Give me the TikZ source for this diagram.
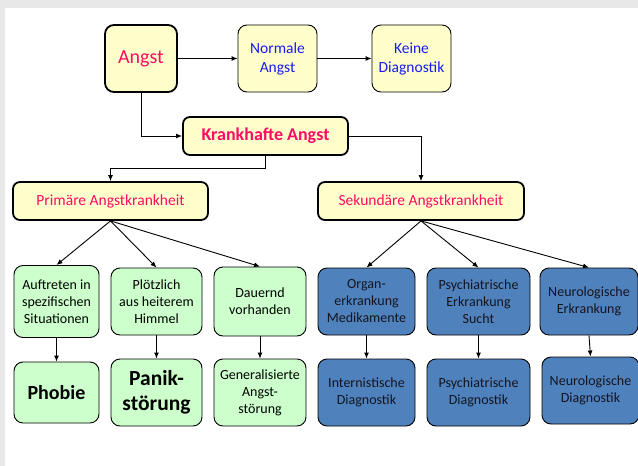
\documentclass[tikz,border=0pt]{standalone}
\usepackage{fontspec}
\setmainfont{Carlito}
\usetikzlibrary{arrows.meta}
\definecolor{pinktxt}{HTML}{FF0A64}
\definecolor{bluetxt}{HTML}{1A1AF0}
\definecolor{yelfill}{HTML}{FFFFCC}
\definecolor{grnfill}{HTML}{CCFFCC}
\definecolor{bluefill}{HTML}{4F81BD}
\definecolor{bggray}{HTML}{E8E8E8}
\definecolor{darktxt}{HTML}{14141E}
\tikzset{
  box/.style={draw=black, rounded corners=9pt, align=center, inner sep=1pt, line width=0.9pt},
  thickbox/.style={box, line width=1.8pt},
  yel/.style={fill=yelfill},
  grn/.style={box, fill=grnfill, font=\fontsize{14}{17}\selectfont},
  blu/.style={box, fill=bluefill, text=darktxt, font=\fontsize{14}{17}\selectfont},
  arr/.style={draw=black, line width=0.9pt, -{Latex[length=6pt,width=5pt]}},
  sz/.style 2 args={minimum width=#1pt, minimum height=#2pt}
}
\begin{document}
\begin{tikzpicture}[x=1pt,y=-1pt]
\fill[bggray] (0,0) rectangle (638,466);
\fill[white] (5,8) rectangle (638,466);
\useasboundingbox (0,0) rectangle (638,466);

\node[thickbox, yel, sz={72}{67}, text=pinktxt, font=\fontsize{20}{24}\selectfont] (angst) at (141,58.5) {Angst};
\node[box, yel, sz={79}{67}, text=bluetxt, font=\fontsize{15.5}{19}\selectfont] (normale) at (277.5,58.5) {Normale\\Angst};
\node[box, yel, sz={79}{67}, text=bluetxt, font=\fontsize{15.5}{19}\selectfont] (keine) at (411.5,58.5) {Keine\\Diagnostik};

\node[thickbox, yel, rounded corners=7pt, sz={165}{38}, text=pinktxt, font=\bfseries\fontsize{18}{22}\selectfont] (krank) at (265.5,136) {Krankhafte Angst};
\node[thickbox, yel, rounded corners=7pt, sz={195}{38}, text=pinktxt, font=\fontsize{15.5}{19}\selectfont] (prim) at (110.5,201) {Primäre Angstkrankheit};
\node[thickbox, yel, rounded corners=7pt, sz={206}{38}, text=pinktxt, font=\fontsize{15.5}{19}\selectfont] (sek) at (421,201) {Sekundäre Angstkrankheit};

\node[grn, sz={85}{72}] (g1) at (56.5,301.5) {Auftreten in\\spezifischen\\Situationen};
\node[grn, sz={91}{67}] (g2) at (156.5,301.5) {Plötzlich\\aus heiterem\\Himmel};
\node[grn, sz={92}{69}] (g3) at (260,301.5) {Dauernd\\vorhanden};

\node[grn, sz={85}{61}, font=\bfseries\fontsize{20}{24}\selectfont] (p1) at (56.5,392.5) {Phobie};
\node[grn, sz={91}{67}, font=\bfseries\fontsize{21.5}{25}\selectfont] (p2) at (156.5,392.5) {Panik-\\störung};
\node[grn, sz={92}{67}] (p3) at (260,392.5) {Generalisierte\\Angst-\\störung};

\node[blu, sz={97}{67}] (b1) at (366.5,301.5) {Organ-\\erkrankung\\Medikamente};
\node[blu, sz={103}{67}] (b2) at (478.5,301.5) {Psychiatrische\\Erkrankung\\Sucht};
\node[blu, sz={98}{67}] (b3) at (589,301.5) {Neurologische\\Erkrankung};

\node[blu, sz={97}{67}] (d1) at (366.5,392.5) {Internistische\\Diagnostik};
\node[blu, sz={103}{67}] (d2) at (478.5,392.5) {Psychiatrische\\Diagnostik};
\node[blu, sz={97}{67}] (d3) at (590.5,390.5) {Neurologische\\Diagnostik};

\draw[arr] (angst.east) -- (normale.west);
\draw[arr] (normale.east) -- (keine.west);
\draw[arr] (angst.south) |- (krank.west);
\draw[arr] (krank.south) -- (krank.south |- 0,168) -| (prim.north);
\draw[arr] (krank.east) -| (sek.north);

\draw[arr] (prim.south) -- (g1.north);
\draw[arr] (prim.south) -- (g2.north);
\draw[arr] (prim.south) -- (g3.north);
\draw[arr] (sek.south) -- (b1.north);
\draw[arr] (sek.south) -- (b2.north);
\draw[arr] (sek.south) -- (b3.north);

\draw[arr] (g1.south) -- (p1.north);
\draw[arr] (g2.south) -- (p2.north);
\draw[arr] (g3.south) -- (p3.north);
\draw[arr] (b1.south) -- (d1.north);
\draw[arr] (b2.south) -- (d2.north);
\draw[arr] (b3.south) -- (d3.north);
\end{tikzpicture}
\end{document}
